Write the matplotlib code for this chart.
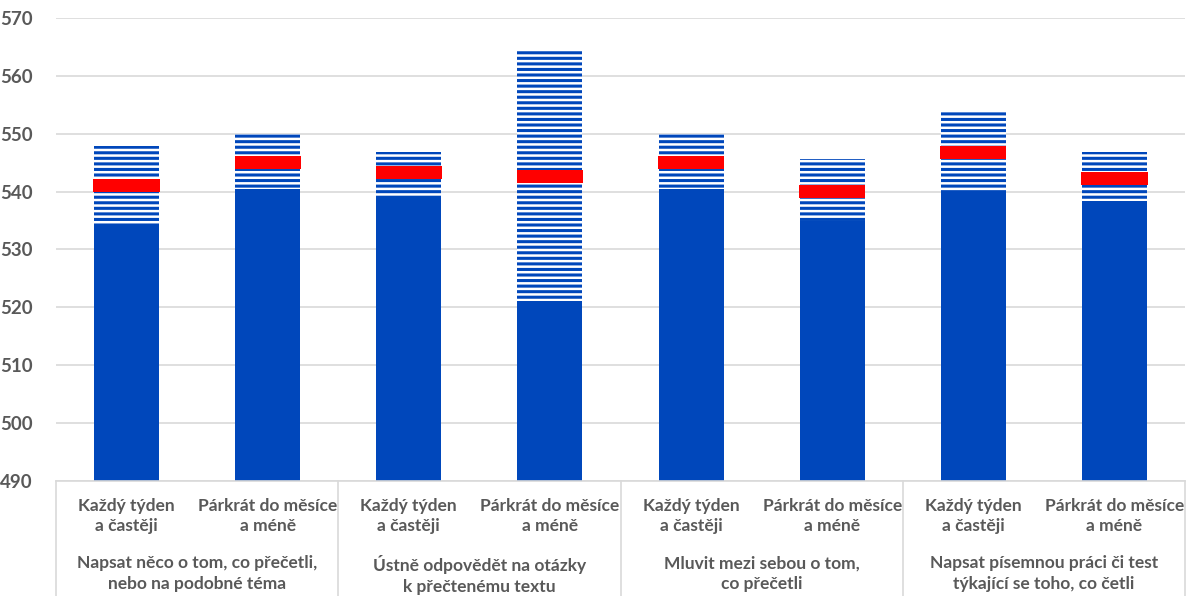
import numpy as np
import matplotlib.pyplot as plt
from matplotlib.transforms import blended_transform_factory

plt.rcParams['font.family'] = ['Lato', 'DejaVu Sans']
plt.rcParams['hatch.linewidth'] = 2.2

# data: confidence interval (lower, upper) and mean per bar
freq_labels = ['Každý týden\na častěji', 'Párkrát do měsíce\na méně']
activity_labels = ['Napsat něco o tom, co přečetli,\nnebo na podobné téma',
                   'Ústně odpovědět na otázky\nk přečtenému textu',
                   'Mluvit mezi sebou o tom,\nco přečetli',
                   'Napsat písemnou práci či test\ntýkající se toho, co četli']
lower = [534.4, 540.4, 539.3, 521.1, 540.4, 535.0, 539.7, 538.4]
mean = [541.1, 545.0, 543.3, 542.6, 545.0, 540.0, 546.8, 542.3]
upper = [547.9, 550.0, 546.8, 564.7, 549.9, 545.7, 554.1, 546.8]

blue = '#0047BB'
red = '#FF0000'
gray = '#595959'

fig = plt.figure(figsize=(11.88, 5.96), dpi=100)
ax = fig.add_axes([56 / 1188, 1 - 481 / 596, 1129 / 1188, 463 / 596])

x = np.arange(len(lower))
w = 0.46
lo = np.array(lower)
hi = np.array(upper)
mu = np.array(mean)

ax.bar(x, lo - 490, bottom=490, width=w, color=blue, linewidth=0, zorder=2)
ax.bar(x, hi - lo, bottom=lo, width=w, facecolor='white', edgecolor=blue,
       hatch='---', linewidth=0, zorder=2)
ax.bar(x, 2.2, bottom=mu - 1.1, width=w + 0.01, color=red, linewidth=0, zorder=3)

ax.set_xlim(-0.5, len(lower) - 0.5)
ax.set_ylim(490, 570)
ax.set_yticks(np.arange(490, 571, 10))
ax.yaxis.grid(True, color='#D9D9D9', linewidth=1.2)
ax.set_axisbelow(True)
for s in ['top', 'right', 'left']:
    ax.spines[s].set_visible(False)
ax.spines['bottom'].set_color('#D9D9D9')
ax.spines['bottom'].set_linewidth(1.2)
ax.tick_params(axis='y', length=0, pad=17, labelsize=13.5, labelcolor=gray)
for t in ax.get_yticklabels():
    t.set_fontweight('bold')
ax.set_xticks([])

# two-level category axis
tr = blended_transform_factory(ax.transData, ax.transAxes)
for i in range(len(lower)):
    ax.text(x[i], -0.036, freq_labels[i % 2], transform=tr, ha='center', va='top',
            fontsize=12.5, fontweight='bold', color=gray, linespacing=1.35)
for g, lab in enumerate(activity_labels):
    ax.text(2 * g + 0.5, -0.16, lab, transform=tr, ha='center', va='top',
            fontsize=12.5, fontweight='bold', color=gray, linespacing=1.35)
for b in np.arange(-0.5, len(lower), 2):
    ax.plot([b, b], [0, -0.27], transform=tr, color='#D9D9D9', linewidth=1.2,
            clip_on=False)

fig.savefig('out.png', dpi=100)
